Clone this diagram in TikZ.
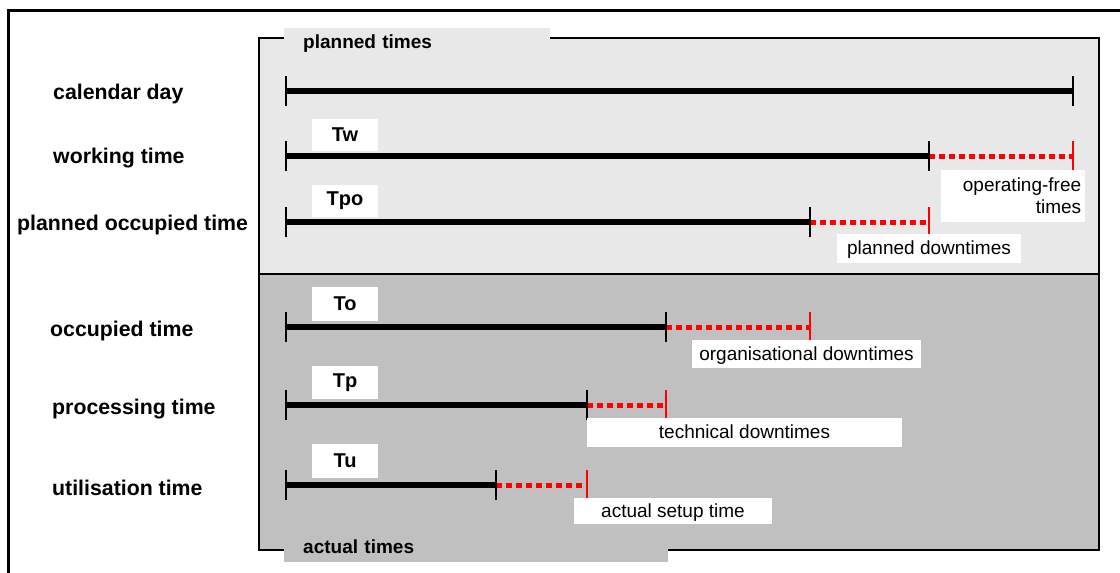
\documentclass[tikz,border=0pt]{standalone}
\usepackage{fontspec}
\setmainfont{Liberation Sans}
\definecolor{plannedbg}{HTML}{E8E8E8}
\definecolor{actualbg}{HTML}{C0C0C0}
\definecolor{downred}{HTML}{FF0000}

\begin{document}
\begin{tikzpicture}[x=1pt, y=-1pt,
  rowlabel/.style={anchor=west, inner sep=0pt, font=\fontsize{21.3}{24}\selectfont\bfseries},
  tagbox/.style={fill=white, inner sep=0pt, minimum width=66pt, minimum height=32pt,
    font=\fontsize{20}{24}\selectfont\bfseries},
  notebox/.style={fill=white, inner sep=0pt, text height=14pt, text depth=2pt,
    font=\fontsize{19}{22}\selectfont},
  groupbox/.style={inner xsep=19pt, inner ysep=0pt, minimum height=30pt, align=left,
    font=\fontsize{19}{22}\selectfont\bfseries},
  busy/.style={line width=5.5pt, black},
  idle/.style={line width=5pt, downred, dash pattern=on 6pt off 4pt},
  tick/.style={line width=2pt, black},
  redtick/.style={line width=2pt, downred},
]
\useasboundingbox (0,0) rectangle (1120,573);

% outer frame (open to the right and bottom)
\draw[line width=3pt] (8,580) -- (8,10) -- (1125,10);

% planned / actual panels
\fill[plannedbg] (259,38) rectangle (1099,274);
\fill[actualbg] (259,274) rectangle (1099,550);
\draw[line width=2pt] (259,274) -- (1099,274);
\draw[line width=2.5pt] (259,38) rectangle (1099,550);

% group titles sitting on the panel border
\node[groupbox, fill=plannedbg, anchor=north west, text width=228pt] (planned) at (284,28) {planned times};
\node[groupbox, fill=actualbg, anchor=north west, text width=346pt] (actual) at (284,532) {actual times};

% row labels
\node[rowlabel] (lcal) at (53,94) {calendar day};
\node[rowlabel] (lwork) at (53,158) {working time};
\node[rowlabel] (lpo) at (17,225) {planned occupied time};
\node[rowlabel] (locc) at (50,331) {occupied time};
\node[rowlabel] (lproc) at (52,409) {processing time};
\node[rowlabel] (lutil) at (52,488) {utilisation time};

% time marks on the axis
\coordinate (s1) at (286,91);   \coordinate (e1) at (1073,91);
\coordinate (s2) at (286,156);  \coordinate (m2) at (929,156);  \coordinate (e2) at (1073,156);
\coordinate (s3) at (286,222);  \coordinate (m3) at (810,222);  \coordinate (e3) at (929,222);
\coordinate (s4) at (286,327);  \coordinate (m4) at (666,327);  \coordinate (e4) at (810,327);
\coordinate (s5) at (286,405);  \coordinate (m5) at (587,405);  \coordinate (e5) at (666,405);
\coordinate (s6) at (286,485);  \coordinate (m6) at (496,485);  \coordinate (e6) at (587,485);

% calendar day
\draw[busy, line width=6pt] (s1) -- (e1);
\draw[tick] ([yshift=-15pt]s1) -- ([yshift=15pt]s1);
\draw[tick] ([yshift=-15pt]e1) -- ([yshift=15pt]e1);

% the other rows: productive part, then the lost part
\foreach \r in {2,...,6}{
  \draw[busy] (s\r) -- (m\r);
  \draw[idle] (m\r) -- (e\r);
  \draw[tick] ([yshift=-15pt]s\r) -- ([yshift=15pt]s\r);
  \draw[tick] ([yshift=-15pt]m\r) -- ([yshift=15pt]m\r);
  \draw[redtick] ([yshift=-15pt]e\r) -- ([yshift=15pt]e\r);
}

% symbols
\node[tagbox] (tw) at (345,135) {Tw};
\node[tagbox] (tpo) at (345,201) {Tpo};
\node[tagbox, minimum height=34pt] (to) at (345,304) {To};
\node[tagbox, minimum height=33pt] (tp) at (345,382.5) {Tp};
\node[tagbox, minimum height=34pt] (tu) at (345,461) {Tu};

% downtime captions
\node[fill=white, inner sep=0pt, anchor=north west, minimum width=144pt, minimum height=52pt,
      text width=136pt, inner xsep=4pt, align=right, font=\fontsize{19}{22}\selectfont]
      (opfree) at (941,170) {operating-free\\times};
\node[notebox, minimum width=184pt, minimum height=29pt] (pdown) at (929,248.5) {planned downtimes};
\node[notebox, minimum width=229pt, minimum height=28pt] (odown) at (806.5,354) {organisational downtimes};
\node[notebox, minimum width=315pt, minimum height=29pt] (tdown) at (744.5,432.5) {technical downtimes};
\node[notebox, minimum width=198pt, minimum height=26pt] (setup) at (673,511) {actual setup time};
\end{tikzpicture}
\end{document}
